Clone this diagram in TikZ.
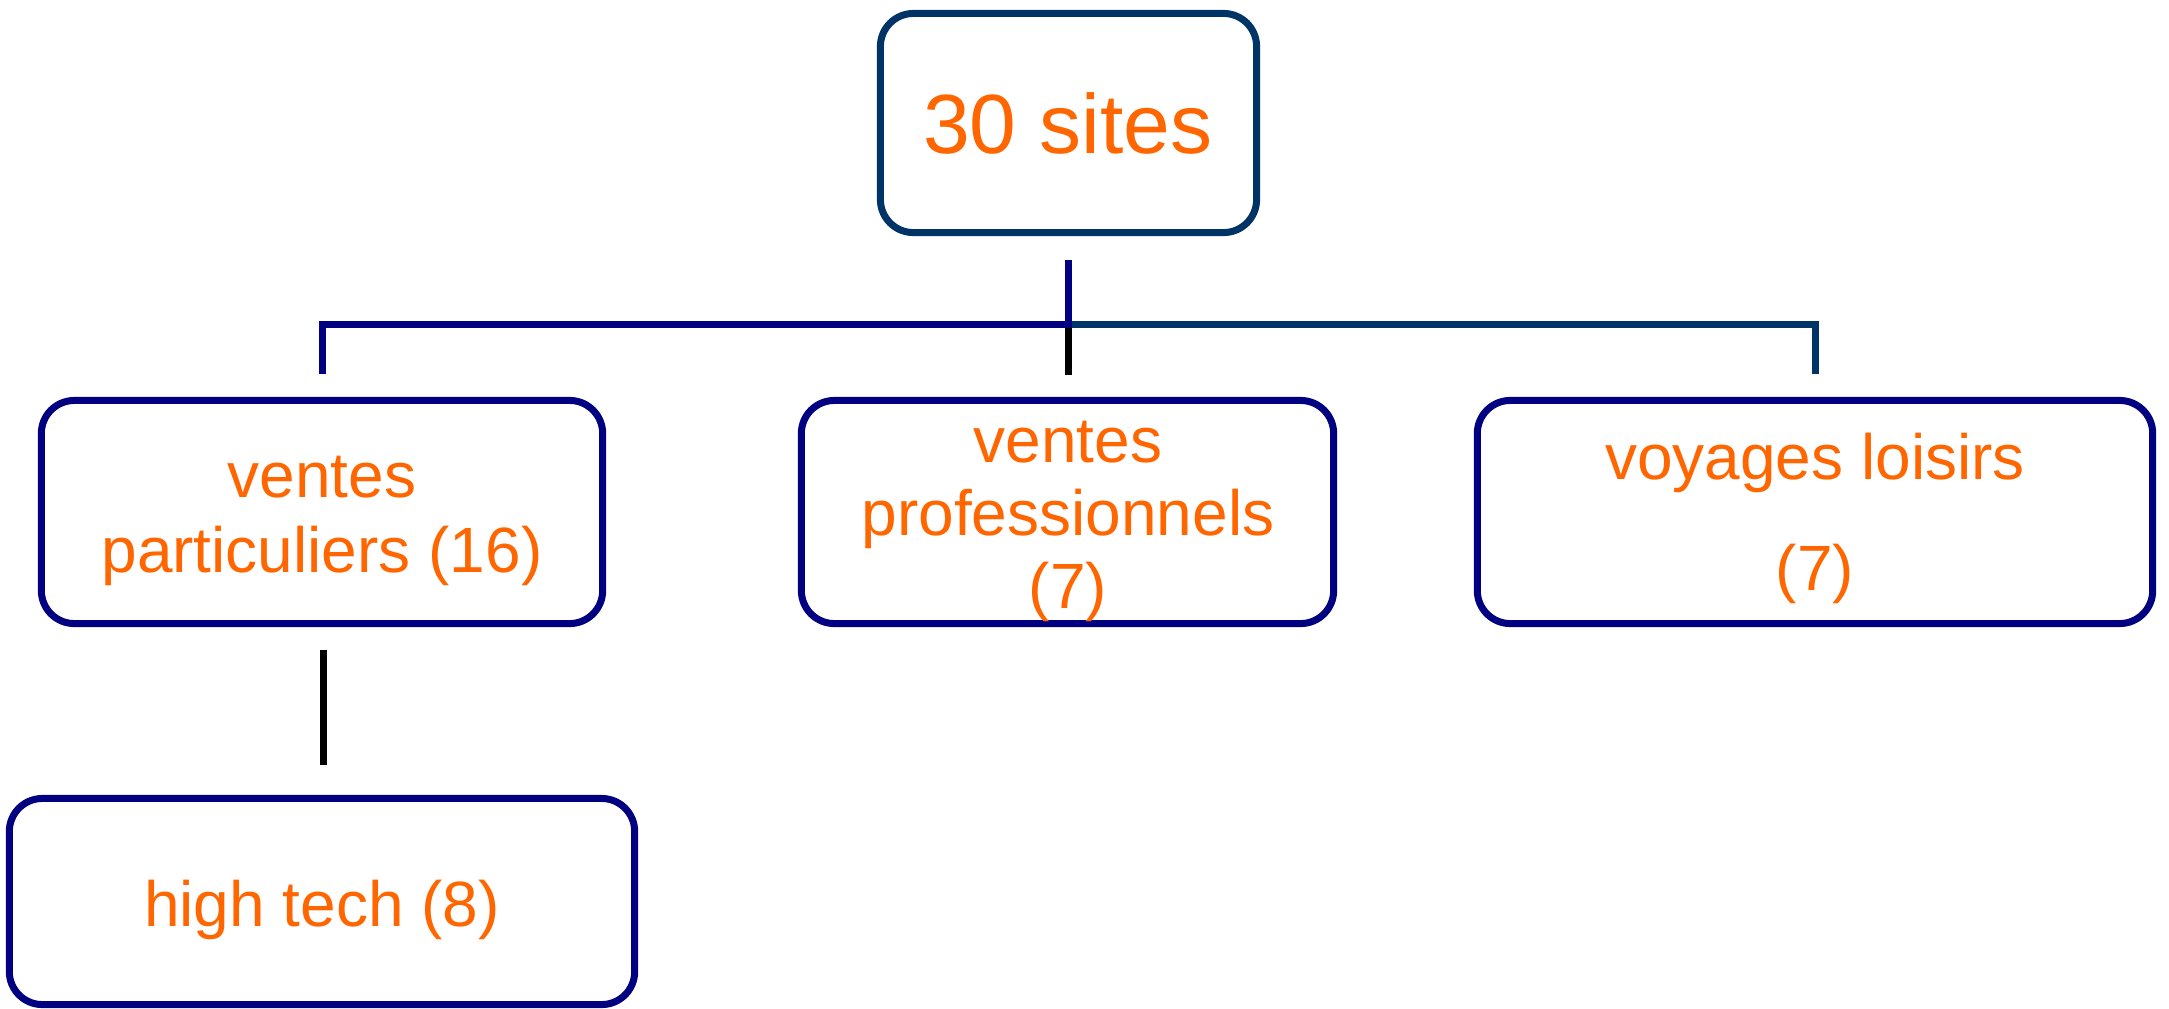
\documentclass[tikz,border=0pt]{standalone}
\usepackage{fontspec}
\setmainfont{Liberation Sans}
\definecolor{navyline}{RGB}{0,0,128}
\definecolor{darkline}{RGB}{0,51,102}
\definecolor{txtorange}{RGB}{255,102,0}
\tikzset{
  box/.style={draw=navyline, line width=0.07cm, rounded corners=0.33cm, inner sep=0pt, fill=white},
  topbox/.style={box, draw=darkline},
  lbl/.style={anchor=base, inner sep=0pt, text=txtorange, font=\fontsize{18.2pt}{21pt}\selectfont},
  biglbl/.style={lbl, font=\fontsize{23.9pt}{27pt}\selectfont},
  conn/.style={line width=0.07cm, line cap=butt, line join=miter},
}
\begin{document}
\begin{tikzpicture}[x=0.01cm, y=-0.01cm]
\useasboundingbox (0,0) rectangle (2169,1008);
% boxes
\node[topbox, minimum width=3.76cm, minimum height=2.19cm] (top) at (1068.5,123) {};
\node[box, minimum width=5.61cm, minimum height=2.23cm] (vp) at (322,512) {};
\node[box, minimum width=5.32cm, minimum height=2.23cm] (vpro) at (1067.5,512) {};
\node[box, minimum width=6.75cm, minimum height=2.23cm] (vl) at (1815,512) {};
\node[box, minimum width=6.25cm, minimum height=2.06cm] (ht) at (322,901.5) {};
% texts
\node[biglbl] (ttop) at (1068,153) {30 sites};
\node[lbl] (tvp1) at (322,497) {ventes};
\node[lbl] (tvp2) at (322,572) {particuliers (16)};
\node[lbl] (tvpro1) at (1068,462) {ventes};
\node[lbl] (tvpro2) at (1068,535) {professionnels};
\node[lbl] (tvpro3) at (1068,608) {(7)};
\node[lbl] (tvl1) at (1815,479) {voyages loisirs};
\node[lbl] (tvl2) at (1815,590) {(7)};
\node[lbl] (tht) at (322,926) {high tech (8)};
% connector points
\coordinate (c0) at (1068,260);
\coordinate (hub) at (1068,324);
\coordinate (lcorner) at (322,324);
\coordinate (rcorner) at (1815,324);
\coordinate (lend) at (322,374);
\coordinate (mend) at (1068,375);
\coordinate (rend) at (1815,374);
\coordinate (vpdown) at (323,650);
\coordinate (htup) at (323,765);
% connectors
\draw[conn, black] (hub) -- (mend);
\draw[conn, navyline] (lend) -- (lcorner) -- ([xshift=0.035cm]hub);
\draw[conn, darkline] ([xshift=0.035cm]hub) -- (rcorner) -- (rend);
\draw[conn, navyline] (c0) -- ([yshift=-0.035cm]hub);
\draw[conn, black] (vpdown) -- (htup);
\end{tikzpicture}
\end{document}
